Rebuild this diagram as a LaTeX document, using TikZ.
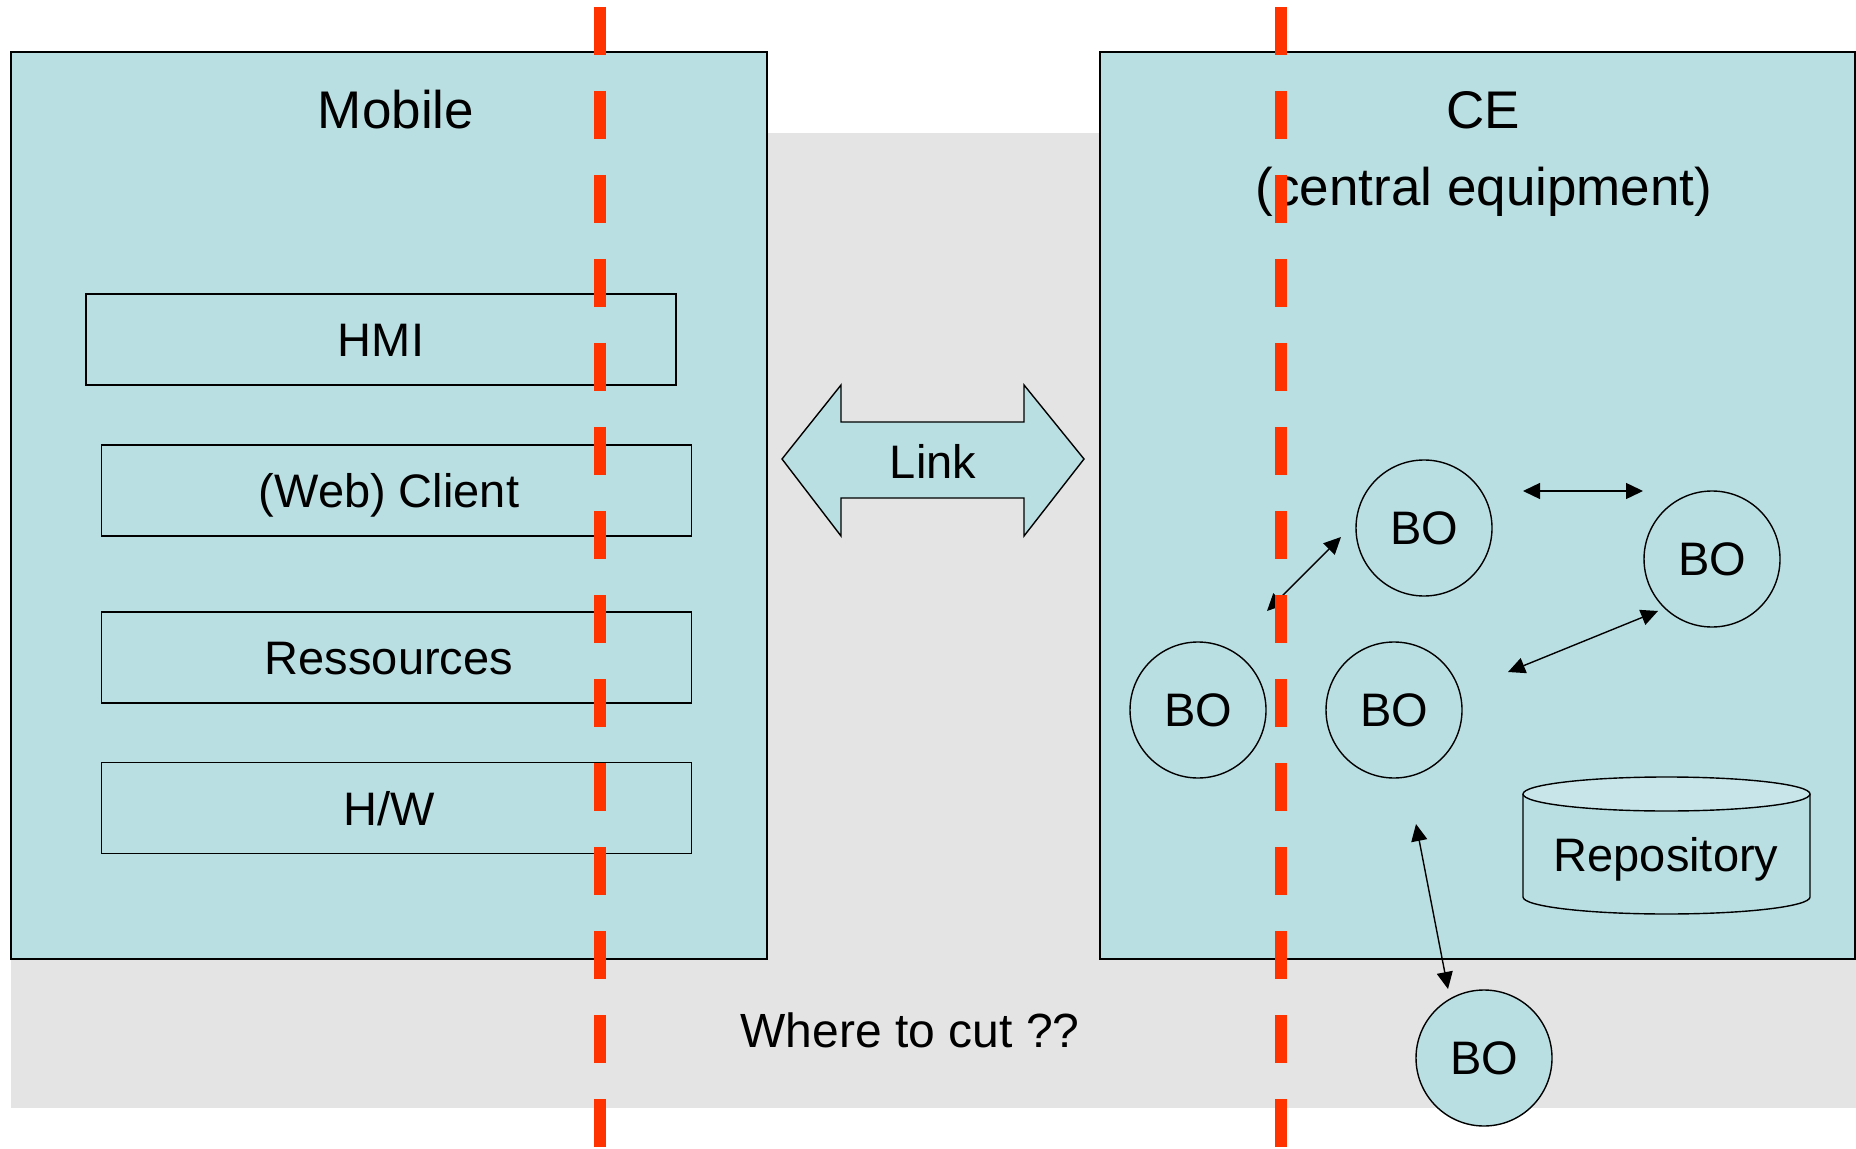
\documentclass[tikz,border=0pt]{standalone}
\usepackage{fontspec}
\setmainfont{Liberation Sans}
\usetikzlibrary{arrows.meta}
\definecolor{boxblue}{RGB}{186,223,227}
\definecolor{topblue}{RGB}{200,230,234}
\definecolor{bggray}{RGB}{228,228,228}
\definecolor{cutred}{RGB}{255,51,0}
\tikzset{
  panel/.style={draw=black, fill=boxblue, line width=0.7pt},
  layerbox/.style={draw=black, fill=boxblue, line width=0.7pt, minimum width=295pt, minimum height=45.5pt, inner sep=0pt},
  bo/.style={circle, draw=black, fill=boxblue, line width=0.7pt, minimum size=68pt, inner sep=0pt, font=\fontsize{23.5}{28}\selectfont},
  plaintext/.style={font=\fontsize{23.5}{28}\selectfont, inner sep=0pt},
  titletext/.style={font=\fontsize{26.5}{32}\selectfont, inner sep=0pt},
  boarrow/.style={{Triangle[length=8.5pt,width=8pt]}-{Triangle[length=8.5pt,width=8pt]}, line width=0.7pt},
  cutline/.style={draw=cutred, line width=6pt, dash pattern=on 24pt off 18pt},
}
\begin{document}
\begin{tikzpicture}[x=0.5pt,y=-0.5pt]
\useasboundingbox (0,0) rectangle (1856,1149);
% background
\fill[bggray] (11,133) rectangle (1856,1108);
% panels
\draw[panel] (11,52) rectangle (767,959);
\draw[panel] (1100,52) rectangle (1855,959);
\node[titletext] (mobile) at (396,110) {Mobile};
\node[titletext] (ce) at (1483,110) {CE};
\node[titletext] (cedesc) at (1484,192) {(central equipment)};
% mobile layers
\node[layerbox] (hmi) at (381,339.5) {};
\node[plaintext] (hmitext) at (381,340) {HMI};
\node[layerbox] (client) at (396.5,490.5) {};
\node[plaintext] (clienttext) at (389,495) {(Web) Client};
\node[layerbox] (res) at (396.5,657.5) {};
\node[plaintext] (restext) at (389,659) {Ressources};
\node[layerbox] (hw) at (396.5,808) {};
\node[plaintext] (hwtext) at (389,809) {H/W};
% link arrow
\draw[fill=boxblue, line width=0.7pt] (782,459) -- (841,385) -- (841,422) -- (1024,422) -- (1024,385) -- (1084,459) -- (1024,536) -- (1024,498) -- (841,498) -- (841,536) -- cycle;
\node[plaintext] (link) at (933,461) {Link};
% BOs
\node[bo] (bo1) at (1424,528) {BO};
\node[bo] (bo2) at (1712,559) {BO};
\node[bo] (bo3) at (1198,710) {BO};
\node[bo] (bo4) at (1394,710) {BO};
\node[bo] (bo5) at (1484,1058) {BO};
% repository
\draw[fill=boxblue, line width=0.7pt] (1523,794) -- (1523,897) arc[start angle=180, end angle=0, x radius=143.5, y radius=17] -- (1810,794);
\draw[fill=topblue, line width=0.7pt] (1666.5,794) ellipse[x radius=143.5, y radius=17];
\node[plaintext] (repo) at (1666,859) {Repository};
% connectors
\coordinate (a1s) at (1523,491); \coordinate (a1e) at (1643,491);
\coordinate (a2s) at (1267,611); \coordinate (a2e) at (1341,537);
\coordinate (a3s) at (1508,672); \coordinate (a3e) at (1658,611);
\coordinate (a4s) at (1416,824); \coordinate (a4e) at (1448,989);
\draw[boarrow] (a1s) -- (a1e);
\draw[boarrow] (a2s) -- (a2e);
\draw[boarrow] (a3s) -- (a3e);
\draw[boarrow] (a4s) -- (a4e);
% question
\node[plaintext, font=\fontsize{24}{28}\selectfont] (where) at (910,1030) {Where to cut ??};
% cut lines
\coordinate (c1t) at (600,7); \coordinate (c1b) at (600,1147);
\coordinate (c2t) at (1281,7); \coordinate (c2b) at (1281,1147);
\draw[cutline] (c1t) -- (c1b);
\draw[cutline] (c2t) -- (c2b);
\end{tikzpicture}
\end{document}
